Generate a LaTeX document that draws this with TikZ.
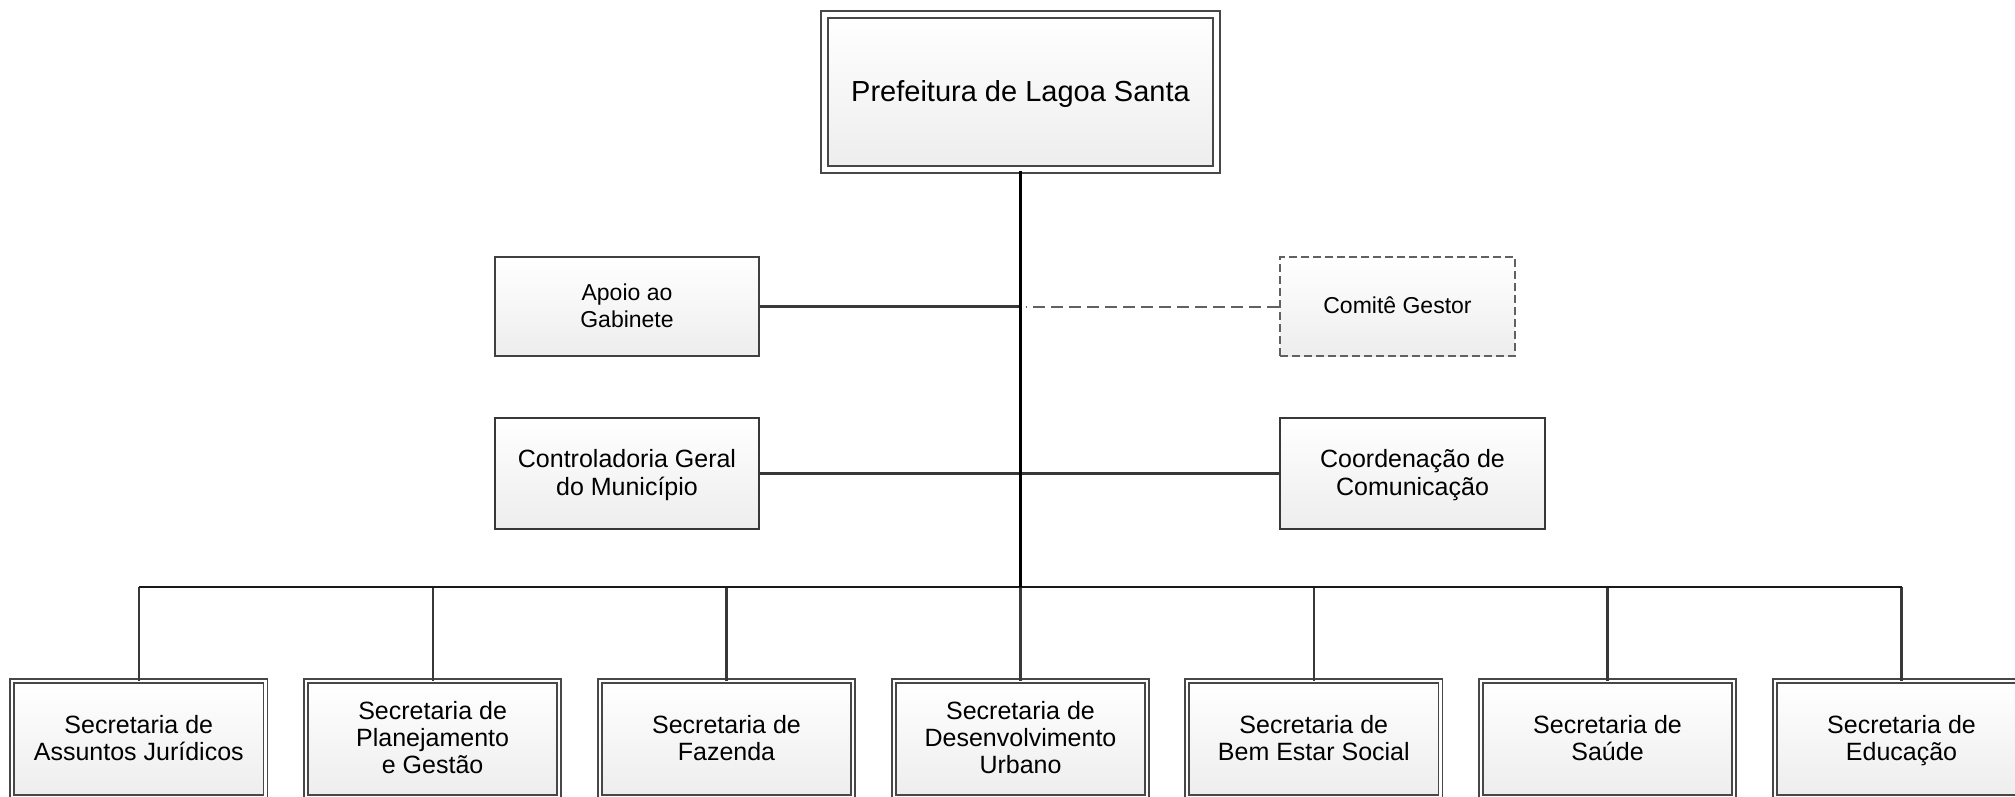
\documentclass[tikz,border=0pt]{standalone}
\usepackage{fontspec}
\setmainfont{Liberation Sans}
\newcommand{\st}{\rule[-0.22\baselineskip]{0pt}{\baselineskip}}
\begin{document}
\begin{tikzpicture}[x=0.75pt,y=-0.75pt,
  boxfill/.style={shade,top color=white,bottom color=black!7,shading angle=0},
  topbox/.style={boxfill,draw=black!72,line width=1.5pt,double=white,double distance=3.75pt,
    minimum width=294.4pt,minimum height=116.6pt,inner sep=0pt,align=center,
    font=\fontsize{21.75pt}{26pt}\selectfont},
  secbox/.style={boxfill,draw=black!72,line width=1.3pt,double=white,double distance=1.7pt,
    minimum width=190.1pt,minimum height=87.4pt,inner sep=0pt,align=center,
    font=\fontsize{18.75pt}{20.25pt}\selectfont},
  staffbox/.style={boxfill,draw=black!75,line width=1.6pt,inner sep=0pt,align=center,
    minimum height=74.25pt,font=\fontsize{17.25pt}{20pt}\selectfont},
  staffboxb/.style={boxfill,draw=black!78,line width=1.6pt,inner sep=0pt,align=center,
    minimum height=83.25pt,font=\fontsize{18.75pt}{21.5pt}\selectfont},
  mainline/.style={draw=black,line width=1.8pt},
  barline/.style={draw=black!90,line width=1.6pt},
  conn/.style={draw=black!78,line width=1.6pt},
  dashconn/.style={draw=black!62,line width=1.5pt,dash pattern=on 9pt off 4.5pt}
]
\useasboundingbox (0,0) rectangle (2015,796);
\clip (0,0) rectangle (2015,796);

\node[topbox] (pref) at (1020.5,92) {\st Prefeitura de Lagoa Santa\st};

\node[staffbox,minimum width=198pt] (apoio) at (627,306.5) {\st Apoio ao\\Gabinete\st};
\node[staffbox,minimum width=176.25pt,draw=black!62,dash pattern=on 6pt off 3pt] (comite) at (1397.5,306.5) {\st Comitê Gestor\st};
\node[staffboxb,minimum width=198pt] (contr) at (627,473.5) {\st Controladoria Geral\\do Município\st};
\node[staffboxb,minimum width=198.75pt] (coord) at (1412.5,473.5) {\st Coordenação de\\Comunicação\st};

\node[secbox] (s1) at (138.8,739) {\st Secretaria de\\Assuntos Jurídicos\st};
\node[secbox] (s2) at (432.6,739) {\st Secretaria de\\Planejamento\\e Gestão\st};
\node[secbox] (s3) at (726.5,739) {\st Secretaria de\\Fazenda\st};
\node[secbox] (s4) at (1020.5,739) {\st Secretaria de\\Desenvolvimento\\Urbano\st};
\node[secbox] (s5) at (1313.8,739) {\st Secretaria de\\Bem Estar Social\st};
\node[secbox] (s6) at (1607.5,739) {\st Secretaria de\\Saúde\st};
\node[secbox] (s7) at (1901.5,739) {\st Secretaria de\\Educação\st};

\coordinate (hub) at (1020.5,587);
\coordinate (barL) at (s1.north |- hub);
\coordinate (barR) at (s7.north |- hub);

\path[conn] (apoio.east) -- (apoio.east -| pref.south);
\path[dashconn] (comite.west) -- ([xshift=4pt]comite.west -| pref.south);
\path[conn] (contr.east) -- (coord.west);

\foreach \s in {s1,s2,s3,s4,s5,s6,s7}
  \path[conn] (\s.north |- hub) -- ([yshift=-1pt]\s.north);

\path[barline] (barL) -- (barR);
\path[mainline] (pref.south) -- (hub);
\end{tikzpicture}
\end{document}
